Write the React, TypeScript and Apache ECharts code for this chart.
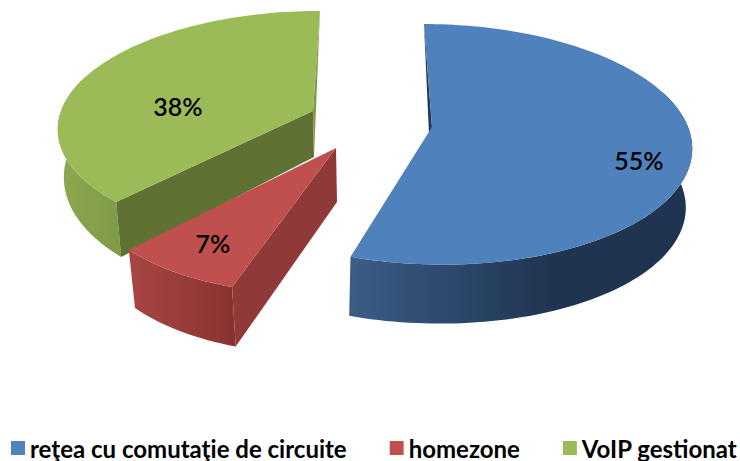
import React, { useEffect, useRef } from "react";
import * as echarts from "echarts";

const categories = ["reţea cu comutaţie de circuite", "homezone", "VoIP gestionat"];
const shares = [55, 7, 38];
const colors = ["#4f81bd", "#c0504d", "#9bbb59"];
const FONT = "Lato, 'Open Sans', sans-serif";

// Perspective placement of each exploded slice (layout only)
const VIEWS = [
  { ax: 432, ay: 127, rx: 256, ry: 117.8, k: 0.144, m: 0, sh: 9.2, bx: 429.5, by: 186, sx: 0.985, sy: 1, lx: 639, ly: 160 },
  { ax: 336, ay: 148, rx: 231.8, ry: 110.8, k: 0.238, m: -0.05, sh: -7.5, bx: 337, by: 202, sx: 0.975, sy: 1.04, lx: 213, ly: 243 },
  { ax: 313, ay: 111, rx: 252, ry: 113, k: 0.129, m: 0, sh: -7.9, bx: 314, by: 157, sx: 0.98, sy: 1.1, lx: 178, ly: 106 },
];

type Pt = [number, number];

function rim(i: number, frac: number): Pt {
  const v = VIEWS[i];
  const a = frac * 2 * Math.PI;
  const u = Math.sin(a);
  const w = -Math.cos(a);
  const s = 1 / (1 - v.k * w - v.m * u);
  return [v.ax + (v.rx * u + v.sh * w) * s, v.ay + v.ry * w * s];
}
function lower(i: number, p: Pt): Pt {
  const v = VIEWS[i];
  return [v.bx + (p[0] - v.ax) * v.sx, v.by + (p[1] - v.ay) * v.sy];
}
function arc(i: number, f0: number, f1: number): Pt[] {
  const n = Math.max(8, Math.ceil((f1 - f0) * 240));
  const out: Pt[] = [];
  for (let j = 0; j <= n; j++) out.push(rim(i, f0 + ((f1 - f0) * j) / n));
  return out;
}
const grad = (stops: [number, string][]) =>
  new echarts.graphic.LinearGradient(0, 0, 1, 0, stops.map(([offset, color]) => ({ offset, color })));

function renderSlice(params: any, api: any) {
  const i = params.seriesIndex;
  const total = shares.reduce((a, b) => a + b, 0);
  const f0 = shares.slice(0, i).reduce((a, b) => a + b, 0) / total;
  const value = api.value(0);
  const f1 = f0 + value / total;
  const v = VIEWS[i];
  const apex: Pt = [v.ax, v.ay];
  const apexLow: Pt = [v.bx, v.by];
  const top = arc(i, f0, f1);
  const poly = (points: Pt[], fill: any) => ({ type: "polygon", shape: { points }, style: { fill } });
  const children: any[] = [];
  if (i === 0) {
    const wall = arc(i, 0.2, f1);
    children.push(poly([...wall, ...wall.map((p) => lower(i, p)).reverse()], grad([[0, "#3b5d87"], [0.6, "#1f3450"], [1, "#1f3450"]])));
    children.push(poly([top[0], apex, [apex[0] - 3, apex[1] + 7]], "#1f3a5c"));
  } else if (i === 1) {
    const end = top[0];
    children.push(poly([...top, ...top.map((p) => lower(i, p)).reverse()], grad([[0, "#a84643"], [1, "#883331"]])));
    children.push(poly([apex, end, lower(i, end), apexLow], "#8f3a38"));
  } else {
    const wall = arc(i, f0, 0.8);
    const start = top[0];
    children.push(poly([...wall, ...wall.map((p) => lower(i, p)).reverse()], grad([[0, "#8ca950"], [1, "#7e9a46"]])));
    children.push(poly([apex, start, lower(i, start), apexLow], "#5f7233"));
    children.push(poly([top[top.length - 1], apex, apexLow], "#7e9a46"));
  }
  children.push(poly([apex, ...top], colors[i]));
  children.push({
    type: "text",
    style: {
      text: `${value}%`,
      x: v.lx,
      y: v.ly,
      fill: "#000",
      font: `600 25px ${FONT}`,
      align: "center",
      verticalAlign: "middle",
    },
    z2: 10,
  });
  return { type: "group", children };
}

export default function App() {
  const ref = useRef<HTMLDivElement>(null);
  useEffect(() => {
    document.body.style.margin = "0";
    const chart = echarts.init(ref.current!, undefined, { renderer: "svg" });
    chart.setOption({
      animation: false,
      color: colors,
      legend: {
        data: categories,
        left: 11,
        top: 436,
        padding: 0,
        icon: "rect",
        itemWidth: 14,
        itemHeight: 14,
        itemGap: 43,
        textStyle: { fontFamily: FONT, fontSize: 24, fontWeight: 700, color: "#000" },
      },
      series: categories.map((name, i) => ({
        type: "custom",
        name,
        coordinateSystem: "none",
        z: i === 2 ? 2 : 3,
        data: [[shares[i]]],
        renderItem: renderSlice,
      })),
    });
    return () => chart.dispose();
  }, []);
  return <div ref={ref} style={{ width: 740, height: 461 }} />;
}
